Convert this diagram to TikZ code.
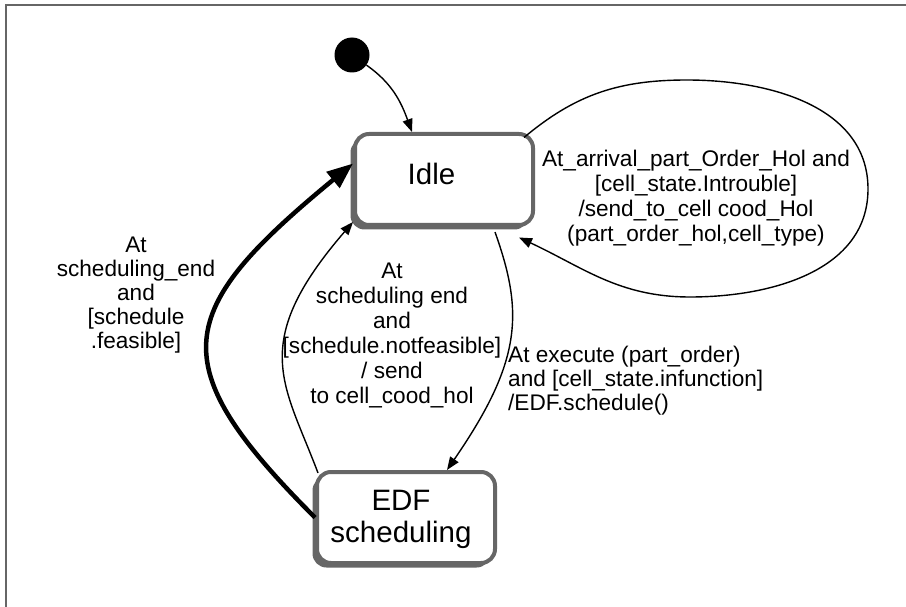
\documentclass[tikz,border=0pt]{standalone}
\usepackage{fontspec}
\setmainfont{Liberation Sans}
\usetikzlibrary{arrows.meta,shadows}

\begin{document}
\begin{tikzpicture}[x=1pt,y=1pt,
  statebox/.style={rectangle, rounded corners=14pt, draw=black!60, line width=4pt,
    fill=white, minimum width=178pt, minimum height=91pt, inner sep=0pt,
    drop shadow={shadow xshift=-4.5pt, shadow yshift=-4.5pt, fill=black!60, opacity=1}},
  statetext/.style={inner sep=0pt, font=\fontsize{29.5}{32}\selectfont, align=center},
  guard/.style={inner sep=0pt, font=\fontsize{22.6}{25}\selectfont},
  guardtight/.style={inner sep=0pt, font=\fontsize{22.6}{24}\selectfont},
  trans/.style={draw, line width=1.4pt, -{Triangle[length=13pt,width=10pt]}},
  heavy/.style={draw, line width=4.5pt, -{Triangle[length=26pt,width=20pt]}},
]
\useasboundingbox (0,0) rectangle (906,-607);

% frame
\draw[black!60, line width=1.2pt] (6,-607) -- (6,-5) -- (906,-5);

% states
\node[statebox] (idle) at (444,-179.5) {};
\node[statetext] (idlelabel) at (431.5,-173.5) {Idle};
\node[statebox] (edf) at (406,-517.5) {};
\node[statetext, anchor=north] (edflabel) at (401,-487.6) {\strut EDF\\scheduling};

% initial pseudo-state
\node[circle, fill=black, minimum size=35pt, inner sep=0pt] (init) at (352,-55) {};

% guard texts
\node[guard, align=center, anchor=north] (looplbl) at (696,-148.5)
  {\strut At\_arrival\_part\_Order\_Hol and\\{[}cell\_state.Introuble{]}\\/send\_to\_cell cood\_Hol\\(part\_order\_hol,cell\_type)};
\node[guardtight, align=center, anchor=north] (feaslbl) at (136,-235.2)
  {\strut At\\scheduling\_end\\and\\{[}schedule\\.feasible{]}};
\node[guard, align=center, anchor=north] (notfeaslbl) at (392,-260.5)
  {\strut At\\scheduling end\\and\\{[}schedule.notfeasible{]}\\/ send\\to cell\_cood\_hol};
\node[guardtight, align=left, anchor=north west] (execlbl) at (508,-345.2)
  {\strut At execute (part\_order)\\and {[}cell\_state.infunction{]}\\/EDF.schedule()};

% self loop waypoints
\coordinate (looptop) at (687,-80);
\coordinate (loopright) at (868,-189);
\coordinate (loopbottom) at (690,-297);

% transitions
\draw[trans] (init.-35) to[out=-35,in=110] ([xshift=-32pt]idle.north);
\draw[trans] ([shift={(-11pt,-5.5pt)}]idle.north east) to[out=40,in=180] (looptop)
  to[out=0,in=90] (loopright) to[out=-90,in=0] (loopbottom)
  to[out=180,in=-25] ([shift={(-16pt,-10.5pt)}]idle.south east);
\draw[trans] ([shift={(51pt,-5pt)}]idle.south) .. controls +(28.7,-80.5) and +(75.2,109.3) .. ([xshift=41pt]edf.north);
\draw[trans] ([shift={(3pt,-3pt)}]edf.north west) .. controls +(-33.4,89.1) and +(-105.6,-122.2) .. ([yshift=-42.5pt]idle.west);
\draw[heavy] (edf.west) .. controls +(-154,154) and +(-180,-148) .. ([yshift=16pt]idle.west);
\end{tikzpicture}
\end{document}
